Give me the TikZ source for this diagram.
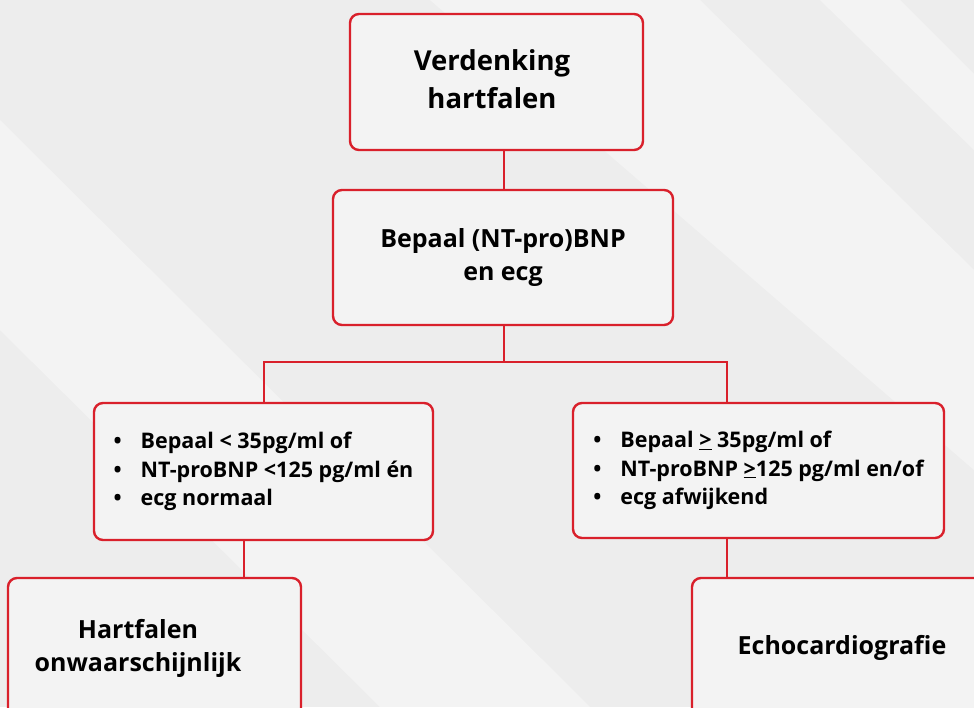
\documentclass[tikz,border=0pt]{standalone}
\usepackage{fontspec}
\setmainfont{Open Sans}
\usepackage{tikz}
\usetikzlibrary{calc}
\usetikzlibrary{positioning}
\definecolor{flowred}{HTML}{D9202B}
\definecolor{backgrey}{HTML}{EDEDED}
\definecolor{boxgrey}{HTML}{F3F3F3}

\begin{document}
\begin{tikzpicture}[x=1pt,y=-1pt]
\tikzstyle{box}=[rectangle,rounded corners=9pt,align=center,draw=flowred,line width=2.4pt,fill=boxgrey,font=\bfseries\fontsize{25}{33}\selectfont]
\tikzstyle{titlebox}=[box,font=\bfseries\fontsize{27.5}{38}\selectfont]
\tikzstyle{listbox}=[box,font=\bfseries\fontsize{21.5}{28.5}\selectfont]
\tikzstyle{link}=[draw=flowred,line width=2pt]
\tikzstyle{stripe}=[fill=white,opacity=0.35]
\useasboundingbox (0, 0) rectangle (974, 707);
\clip (0, 0) rectangle (974, 707);
\fill[backgrey] (0, 0) rectangle (974, 707);
% light diagonal bands
\fill[stripe] (0, 120) -- (0, 330) -- (380, 707) -- (590, 707) -- cycle;
\fill[stripe] (430, 0) -- (700, 0) -- (974, 270) -- (974, 470) -- cycle;
\fill[stripe] (820, 0) -- (900, 0) -- (974, 74) -- (974, 150) -- cycle;
\node[titlebox,minimum width=293pt,minimum height=136pt] at(496.5, 82) (suspect) {%
  \begin{tabular}{@{}c@{\hspace{9pt}}}Verdenking\\hartfalen\end{tabular}};
\node[box,minimum width=340pt,minimum height=135pt] at(503, 257.5) (bnp) {Bepaal (NT-pro)BNP\\
                                                                  en ecg};
\node[listbox,minimum width=339pt,minimum height=137pt] at(263.5, 471.5) (low) {%
  \begin{tabular}{@{}l@{\hspace{19pt}}l@{}}
  \textbullet & Bepaal < 35pg/ml of\\
  \textbullet & NT-proBNP <125 pg/ml én\\
  \textbullet & ecg normaal
  \end{tabular}};
\node[listbox,minimum width=371pt,minimum height=135pt] at(758.5, 470.5) (high) {%
  \begin{tabular}{@{}l@{\hspace{19pt}}l@{}}
  \textbullet & Bepaal \underline{>} 35pg/ml of\\
  \textbullet & NT-proBNP \underline{>}125 pg/ml en/of\\
  \textbullet & ecg afwijkend
  \end{tabular}};
\node[box,minimum width=293pt,minimum height=140pt] at(154.5, 648) (unlikely) {%
  \begin{tabular}{@{}c@{\hspace{33pt}}}Hartfalen\\onwaarschijnlijk\end{tabular}};
\node[box,minimum width=300pt,minimum height=140pt] at(842, 648) (echo) {Echocardiografie};
\coordinate (split) at(504, 362);
\draw[link] (suspect.south -| split) -- (bnp.north -| split);
\draw[link] (bnp.south -| split) -- (split) -| (low.north);
\draw[link] (split) -| ([xshift=-31.5pt]high.north);
\draw[link] ([xshift=-19.5pt]low.south) -- ([xshift=-19.5pt]low.south |- unlikely.north);
\draw[link] ([xshift=-31.5pt]high.south) -- ([xshift=-31.5pt]high.south |- echo.north);
\end{tikzpicture}
\end{document}
